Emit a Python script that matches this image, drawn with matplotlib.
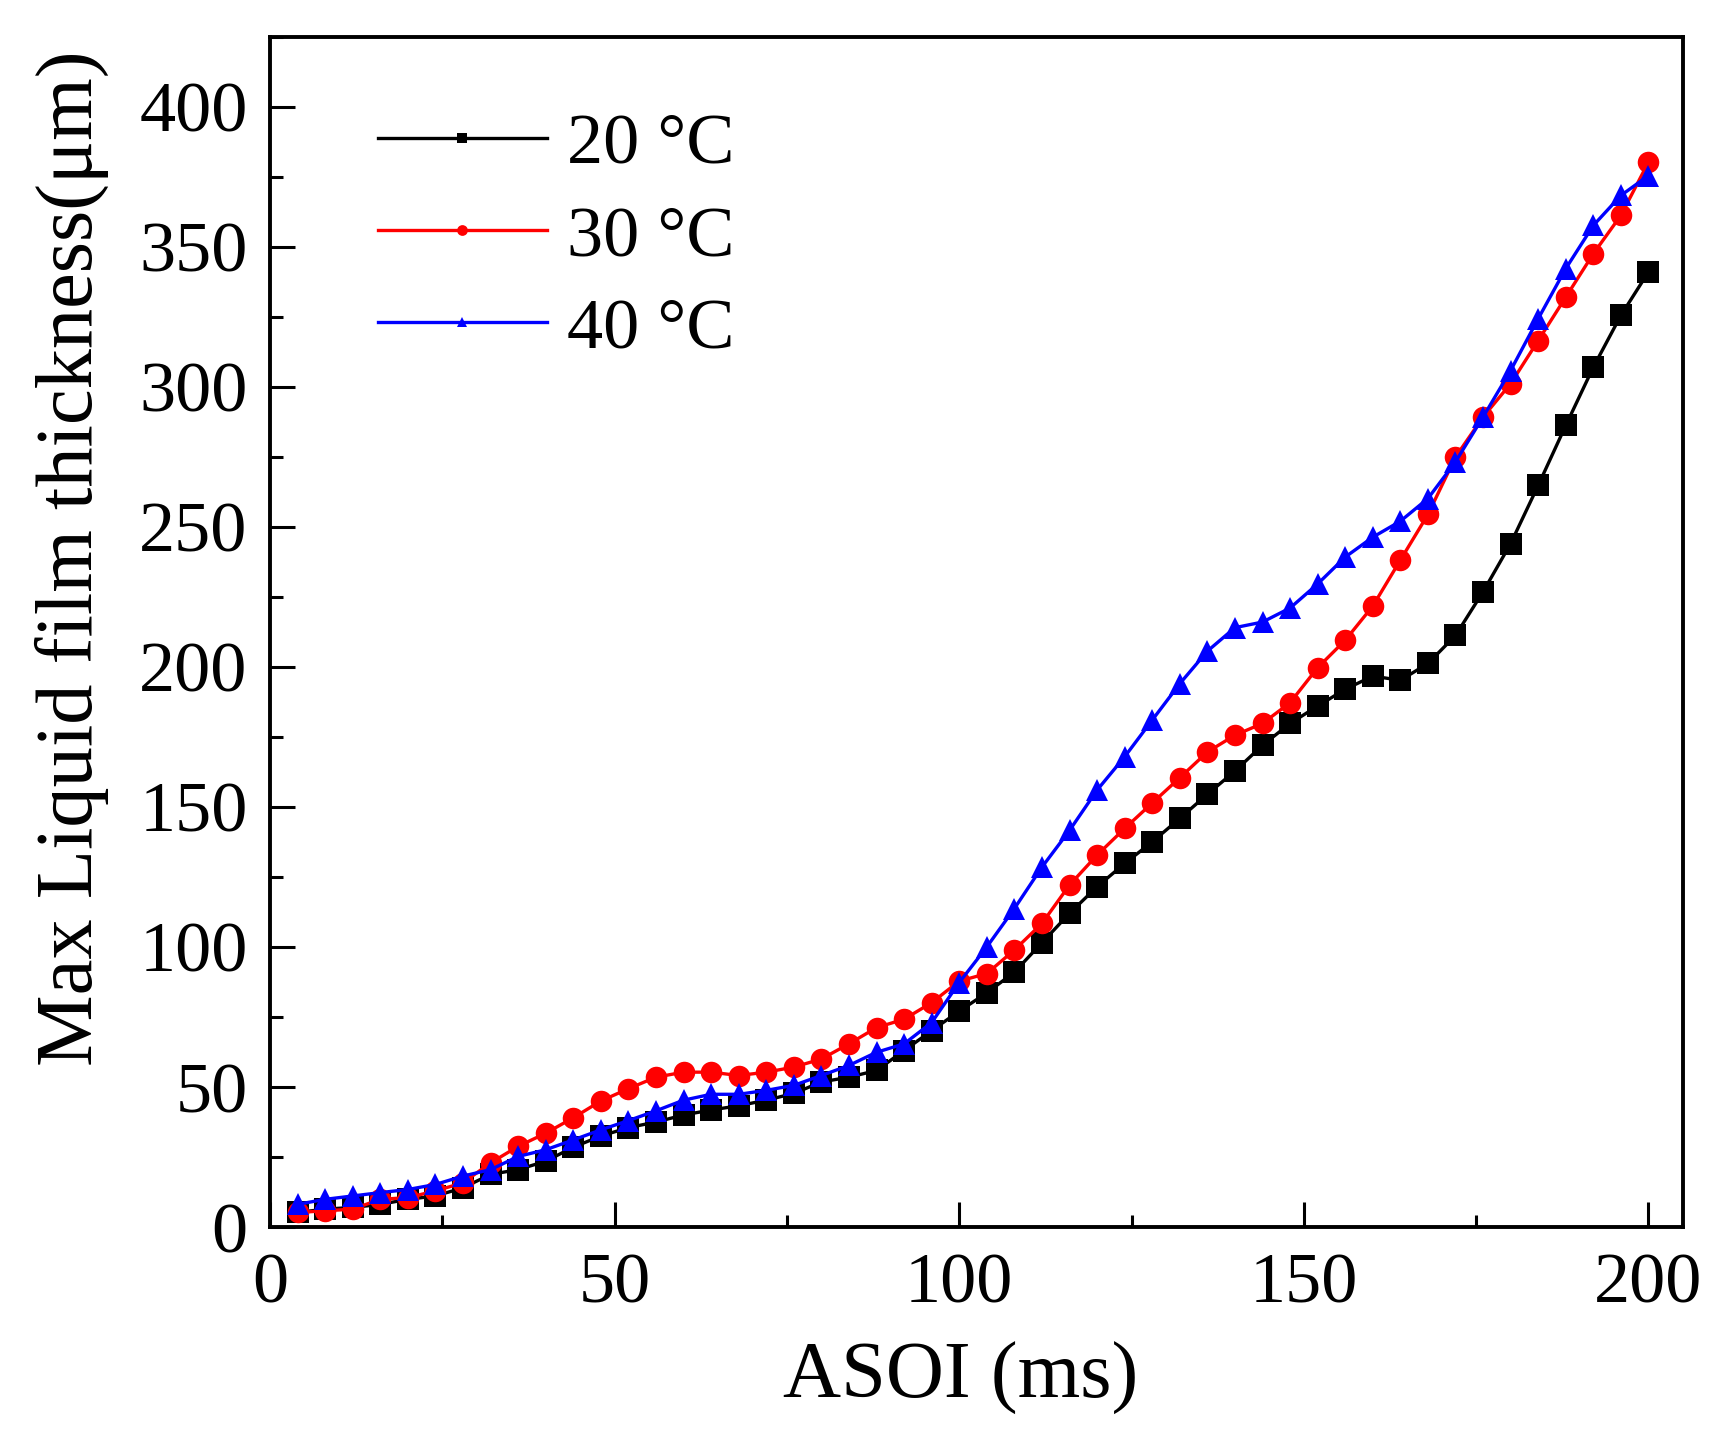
import numpy as np
import matplotlib
matplotlib.use("Agg")
import matplotlib.pyplot as plt
from matplotlib.ticker import MultipleLocator

plt.rcParams['font.family'] = ['Liberation Serif', 'DejaVu Serif']
plt.rcParams['mathtext.fontset'] = 'stix'

# ---- data ----
asoi = list(range(4, 201, 4))

t20 = [5.2, 6.4, 7.0, 8.1, 9.9, 11.1, 14.0, 18.8, 20.5, 23.5,
       28.5, 32.5, 35.5, 37.5, 40.0, 41.8, 43.3, 45.3, 47.7, 51.8,
       53.5, 55.9, 63.0, 70.1, 77.1, 83.6, 91.0, 101.5, 112.0, 121.5,
       129.8, 137.5, 145.9, 154.5, 162.8, 172.0, 179.8, 186.0, 192.0, 196.7,
       195.2, 201.2, 211.2, 226.8, 244.0, 264.8, 286.2, 307.0, 325.5, 341.0]

t30 = [5.2, 5.8, 6.4, 9.9, 10.5, 12.9, 15.8, 22.9, 28.8, 33.5,
       39.0, 45.0, 49.4, 53.5, 55.3, 55.3, 54.1, 55.3, 57.1, 60.0,
       65.4, 71.2, 74.2, 80.1, 87.8, 90.5, 98.9, 108.4, 122.1, 132.8,
       142.3, 151.4, 160.4, 169.6, 175.6, 179.8, 187.2, 199.7, 209.5, 221.7,
       238.1, 254.4, 274.9, 289.2, 301.1, 316.5, 332.0, 347.5, 361.2, 380.2]

t40 = [8.1, 9.9, 11.1, 12.3, 13.4, 15.2, 18.2, 20.5, 25.2, 27.6,
       31.1, 34.7, 38.0, 41.5, 45.3, 47.4, 47.4, 48.8, 50.6, 54.1,
       57.7, 62.4, 65.4, 73.0, 87.3, 100.0, 113.7, 128.5, 141.6, 156.0,
       167.9, 181.0, 194.0, 205.6, 214.0, 216.0, 221.0, 229.6, 239.2, 246.3,
       252.0, 260.1, 273.2, 289.2, 305.8, 324.3, 342.2, 357.6, 368.3, 375.4]

labels = ['20 °C', '30 °C', '40 °C']
series = [t20, t30, t40]
colors = ['#000000', '#ff0000', '#0000ff']
markers = ['s', 'o', '^']

xticks = [0, 50, 100, 150, 200]
yticks = [0, 50, 100, 150, 200, 250, 300, 350, 400]

# ---- figure ----
fig = plt.figure(figsize=(17.35, 14.37), dpi=100)
ax = fig.add_axes([0.1556, 0.1461, 0.9700 - 0.1556, 0.9745 - 0.1461])

for y, lab, c, m in zip(series, labels, colors, markers):
    ax.plot(asoi, y, color=c, marker=m, markersize=15.5, linewidth=2.4,
            markeredgewidth=0, label=lab)

ax.set_xlim(0, 205)
ax.set_ylim(0, 425)
ax.set_xticks(xticks)
ax.set_yticks(yticks)
ax.xaxis.set_minor_locator(MultipleLocator(25))
ax.yaxis.set_minor_locator(MultipleLocator(25))

ax.tick_params(axis='both', which='major', direction='in', length=18, width=2.2,
               labelsize=52, top=False, right=False)
ax.tick_params(axis='both', which='minor', direction='in', length=9, width=2.2,
               top=False, right=False)
ax.tick_params(axis='x', which='major', pad=18)
ax.tick_params(axis='y', which='major', pad=16)

for sp in ax.spines.values():
    sp.set_linewidth(2.8)

ax.set_xlabel('ASOI (ms)', fontsize=58, labelpad=18, x=0.489)
fig.text(72 / 1735, 1 - 558 / 1437, 'Max Liquid film thickness(μm)',
         rotation=90, ha='center', va='center', fontsize=58)

leg = ax.legend(loc='upper left', bbox_to_anchor=(0.0764, 0.9365), frameon=False,
                fontsize=52, handlelength=2.34, handletextpad=0.28,
                labelspacing=0.37, borderpad=0, borderaxespad=0,
                markerscale=0.5)

fig.savefig('out.png', dpi=100)
